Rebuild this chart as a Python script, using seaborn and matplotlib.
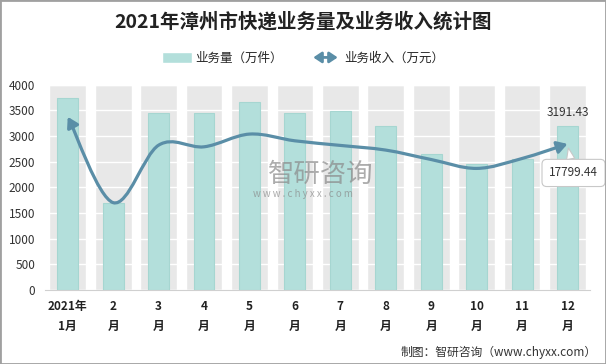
import numpy as np
import seaborn as sns
import matplotlib.pyplot as plt
from matplotlib.path import Path
from matplotlib.patches import FancyArrowPatch, Patch, Rectangle
from matplotlib.legend_handler import HandlerPatch

sns.set_style("white")
plt.rcParams['font.family'] = ['Noto Sans CJK SC', 'DejaVu Sans']

# data
months = ['2021年\n1月', '2\n月', '3\n月', '4\n月', '5\n月', '6\n月',
          '7\n月', '8\n月', '9\n月', '10\n月', '11\n月', '12\n月']
volume = [3750, 1690, 3460, 3460, 3670, 3460, 3490, 3200, 2645, 2455, 2550, 3191.43]   # 万件
revenue = [21100, 10650, 17650, 17450, 19000, 18180, 17620, 17050, 15900, 14820, 16030, 17799.44]  # 万元

bar_color = '#b3dfdb'
line_color = '#5a8ea7'

fig = plt.figure(figsize=(6.06, 3.64), dpi=100)
ax = fig.add_axes([0.0743, 0.203, 0.8997, 0.564])

# gray background columns
ax.bar(range(len(months)), [4000] * len(months), width=0.81, color='#e8e8e8', zorder=0.2)
sns.barplot(x=months, y=volume, color=bar_color, width=0.46, edgecolor='#a6d6d1',
            linewidth=0.8, saturation=1, ax=ax, zorder=2)

ax.set_ylim(0, 4000)
ax.set_xlim(-0.5, len(months) - 0.5)
ax.set_yticks(range(0, 4001, 500))
ax.set_axisbelow(True)
ax.yaxis.grid(True, color='white', lw=1)
ax.xaxis.grid(False)
for s in ['left', 'right', 'top']:
    ax.spines[s].set_visible(False)
ax.spines['bottom'].set_color('#d0d0d0')
ax.set_xlabel('')
ax.set_ylabel('')
ax.tick_params(axis='y', length=0, pad=7, labelsize=8.5, labelcolor='#333333')
ax.set_xticks(range(len(months)))
ax.set_xticklabels(months, fontweight='bold', fontsize=8.5, linespacing=1.75, color='#222222')
ax.tick_params(axis='x', which='major', length=0, pad=7)
ax.set_xticks(np.arange(-0.5, len(months)), minor=True)
ax.tick_params(axis='x', which='minor', length=5, color='#d0d0d0', width=1)

ax.annotate(f'{volume[-1]:.2f}', xy=(len(months) - 1, volume[-1]), xytext=(0, 7),
            textcoords='offset pixels', ha='center', va='bottom', fontsize=8.5, color='#333333')

# revenue on hidden secondary axis, smooth curve with arrow ends
ax2 = ax.twinx()
ax2.set_ylim(0, 25000)
ax2.axis('off')
pts = np.column_stack([np.arange(len(revenue)), revenue]).astype(float)
verts = [pts[0]]
codes = [Path.MOVETO]
n = len(pts)
for i in range(n - 1):
    p0 = pts[max(i - 1, 0)]
    p1 = pts[i]
    p2 = pts[i + 1]
    p3 = pts[min(i + 2, n - 1)]
    verts += [p1 + (p2 - p0) / 6, p2 - (p3 - p1) / 6, p2]
    codes += [Path.CURVE4] * 3
curve = FancyArrowPatch(path=Path(verts, codes),
                        arrowstyle='<|-|>,head_length=0.5,head_width=0.3',
                        mutation_scale=12, color=line_color, lw=2.3, zorder=4)
ax2.add_patch(curve)

ax2.annotate(f'{revenue[-1]:.2f}', xy=(n - 1, revenue[-1]), xytext=(6, -29),
             textcoords='offset pixels', ha='center', va='center', fontsize=8.5, color='#333333',
             bbox=dict(boxstyle='round,pad=0.6,rounding_size=0.4', fc='white', ec='#c8c8c8', lw=0.8),
             arrowprops=dict(arrowstyle='wedge,tail_width=0.7', fc='white', ec='#c8c8c8', lw=0.8,
                             shrinkA=0, shrinkB=3), zorder=6)

# watermark
fig.text(0.53, 0.52, '智研咨询', fontsize=19, color='#8a8a8a', alpha=0.7, ha='center', va='center')
fig.text(0.5, 0.466, 'w w w . c h y x x . c o m', fontsize=7, color='#8a8a8a', alpha=0.7,
         ha='center', va='center')


class ArrowHandler(HandlerPatch):
    def create_artists(self, legend, orig_handle, xdescent, ydescent, width, height, fontsize, trans):
        y = height / 2 - ydescent
        p = FancyArrowPatch((-xdescent, y), (width - xdescent, y),
                            arrowstyle='<|-|>,head_length=0.6,head_width=0.4',
                            mutation_scale=8, color=line_color, lw=2)
        p.set_transform(trans)
        return [p]


arrow_handle = FancyArrowPatch((0, 0), (1, 1))
fig.legend([Patch(facecolor=bar_color), arrow_handle], ['业务量（万件）', '业务收入（万元）'],
           handler_map={FancyArrowPatch: ArrowHandler()},
           loc='center', bbox_to_anchor=(0.5, 0.84), ncol=2, frameon=False,
           fontsize=9, handlelength=2.4, handleheight=0.9, columnspacing=2.2, handletextpad=0.3)

fig.text(0.5, 0.94, '2021年漳州市快递业务量及业务收入统计图', fontsize=14, fontweight='bold',
         ha='center', va='center', color='#222222')
fig.text(0.985, 0.033, '制图：智研咨询（www.chyxx.com）', fontsize=8.5, ha='right', va='center',
         color='#333333')

fig.patches.append(Rectangle((0, 0), 1, 1, transform=fig.transFigure, fill=False,
                             ec='#a0a0a0', lw=2, zorder=10))

fig.savefig('out.png', dpi=100)
plt.close(fig)
